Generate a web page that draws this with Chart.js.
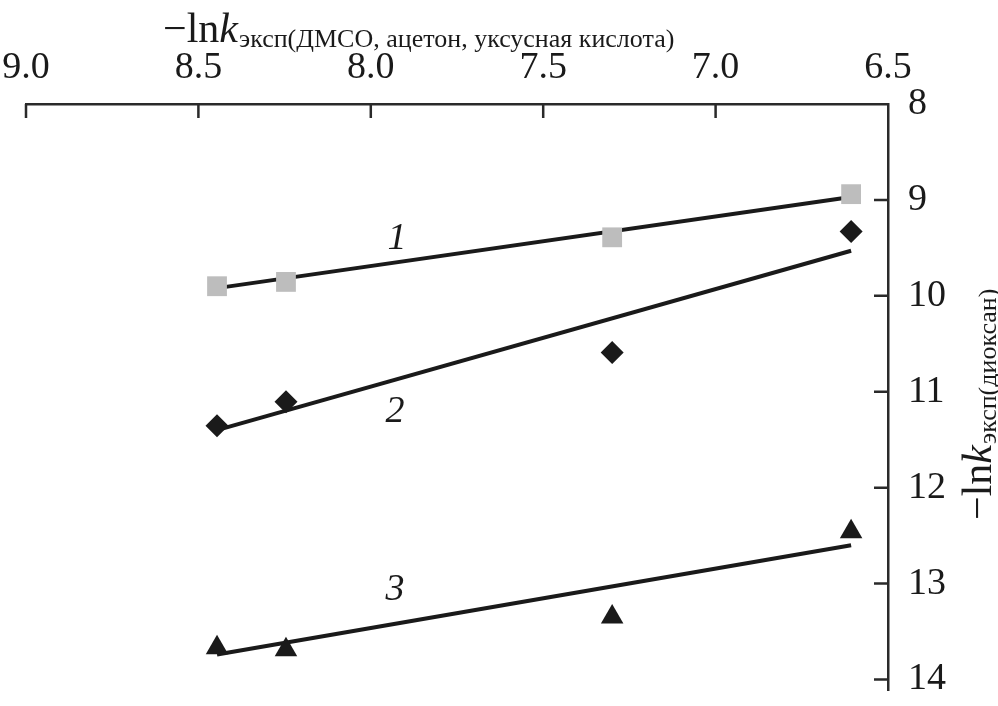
<!DOCTYPE html>
<html>
<head>
<meta charset="utf-8">
<script src="https://cdn.jsdelivr.net/npm/chart.js@4/dist/chart.umd.min.js"></script>
<style>
  html, body { margin: 0; padding: 0; background: #ffffff; }
  #wrap { position: relative; width: 998px; height: 706px; }
</style>
</head>
<body>
<div id="wrap"><canvas id="c" width="998" height="706"></canvas></div>
<script>
// ---- data ----
const xValues = [8.446, 8.246, 7.300, 6.607];          // −ln k (ДМСО, ацетон, уксусная кислота)
const series1 = [9.90, 9.855, 9.39, 8.94];            // squares (1)
const series2 = [11.355, 11.105, 10.59, 9.33];        // diamonds (2)
const series3 = [13.67, 13.69, 13.35, 12.46];         // triangles (3)
const fitX = [8.446, 6.607];
const fit1 = [9.92, 8.97];
const fit2 = [11.40, 9.53];
const fit3 = [13.74, 12.60];
const seriesNames = ['1', '2', '3'];
const nameX = [7.924, 7.93, 7.93];
const nameY = [9.41, 11.21, 13.07];
const xTicks = [9.0, 8.5, 8.0, 7.5, 7.0, 6.5];
const yTicks = [8, 9, 10, 11, 12, 13, 14];

const FONT = '"Liberation Serif", "DejaVu Serif", serif';
const INK = '#1a1a1a';

function pts(xs, ys) { return xs.map((x, i) => ({ x: x, y: ys[i] })); }
function noPad(s) { s.paddingLeft = 0; s.paddingRight = 0; s.paddingTop = 0; s.paddingBottom = 0; }

const inwardTicks = {
  id: 'inwardTicks',
  afterDraw(chart) {
    const ctx = chart.ctx, a = chart.chartArea;
    const xs = chart.scales.x, ys = chart.scales.y;
    ctx.save();
    ctx.strokeStyle = '#2a2a2a';
    ctx.lineWidth = 2.5;
    ctx.beginPath();
    xTicks.forEach(v => {
      const px = xs.getPixelForValue(v);
      if (Math.abs(px - a.right) < 1) return;
      ctx.moveTo(px, a.top); ctx.lineTo(px, a.top + 14);
    });
    yTicks.forEach(v => {
      const py = ys.getPixelForValue(v);
      if (Math.abs(py - a.top) < 1) return;
      ctx.moveTo(a.right - 14, py); ctx.lineTo(a.right, py);
    });
    ctx.stroke();

    // series numbers
    ctx.fillStyle = INK;
    ctx.font = 'italic 38px ' + FONT;
    ctx.textAlign = 'center';
    ctx.textBaseline = 'middle';
    seriesNames.forEach((n, i) => {
      ctx.fillText(n, xs.getPixelForValue(nameX[i]), ys.getPixelForValue(nameY[i]));
    });

    // axis titles
    function drawTitle(sub) {
      ctx.textAlign = 'left';
      ctx.textBaseline = 'alphabetic';
      let x = 0;
      ctx.font = '42px ' + FONT;
      ctx.fillText('\u2212ln', x, 0);
      x += ctx.measureText('\u2212ln').width;
      ctx.font = 'italic 42px ' + FONT;
      ctx.fillText('k', x, 0);
      x += ctx.measureText('k').width + 1;
      ctx.font = '26px ' + FONT;
      ctx.fillText(sub, x, 5);
    }
    ctx.save();
    ctx.translate(163, 42);
    drawTitle('эксп(ДМСО, ацетон, уксусная кислота)');
    ctx.restore();
    ctx.save();
    ctx.translate(991, 520);
    ctx.rotate(-Math.PI / 2);
    drawTitle('эксп(диоксан)');
    ctx.restore();
    ctx.restore();
  }
};

new Chart(document.getElementById('c'), {
  type: 'scatter',
  data: {
    datasets: [
      { type: 'line', data: pts(fitX, fit1), borderColor: INK, borderWidth: 4, pointRadius: 0, order: 2, fill: false },
      { type: 'line', data: pts(fitX, fit2), borderColor: INK, borderWidth: 4, pointRadius: 0, order: 2, fill: false },
      { type: 'line', data: pts(fitX, fit3), borderColor: INK, borderWidth: 4, pointRadius: 0, order: 2, fill: false },
      { data: pts(xValues, series1), pointStyle: 'rect', pointRadius: 14, backgroundColor: '#bdbdbd', borderWidth: 0, order: 1 },
      { data: pts(xValues, series2), pointStyle: 'rectRot', pointRadius: 11.5, backgroundColor: INK, borderWidth: 0, order: 1 },
      { data: pts(xValues, series3), pointStyle: 'triangle', pointRadius: 13, backgroundColor: INK, borderWidth: 0, order: 1 }
    ]
  },
  options: {
    responsive: false,
    animation: false,
    clip: false,
    layout: { padding: { left: 26, right: 0, top: 0, bottom: 16 } },
    plugins: { legend: { display: false }, tooltip: { enabled: false }, title: { display: false } },
    scales: {
      x: {
        type: 'linear', position: 'top', reverse: true, min: 6.5, max: 9,
        afterFit(s) { s.height = 104; noPad(s); },
        grid: { display: false, drawTicks: false },
        border: { display: true, color: '#2a2a2a', width: 2.5 },
        afterBuildTicks(s) { s.ticks = xTicks.map(v => ({ value: v })); },
        ticks: { padding: 13, color: INK, font: { family: FONT, size: 38 }, maxRotation: 0, autoSkip: false,
                 callback: v => Number(v).toFixed(1) }
      },
      y: {
        type: 'linear', position: 'right', reverse: true, min: 8, max: 14.11,
        afterFit(s) { s.width = 110; noPad(s); },
        grid: { display: false, drawTicks: false },
        border: { display: true, color: '#2a2a2a', width: 2.5 },
        afterBuildTicks(s) { s.ticks = yTicks.map(v => ({ value: v })); },
        ticks: { padding: 20, color: INK, font: { family: FONT, size: 38 }, autoSkip: false,
                 callback: v => String(v) }
      }
    }
  },
  plugins: [inwardTicks]
});
</script>
</body>
</html>
